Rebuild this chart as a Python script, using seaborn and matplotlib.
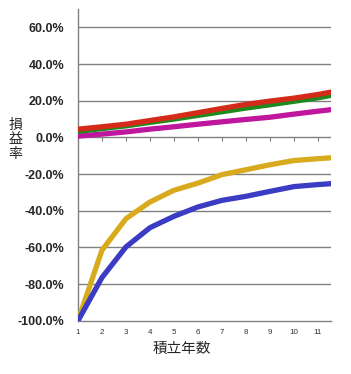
import matplotlib
matplotlib.use("Agg")
import matplotlib.pyplot as plt
import seaborn as sns
import pandas as pd
from matplotlib.ticker import FuncFormatter

years = [1, 2, 3, 4, 5, 6, 7, 8, 9, 10, 11, 12]
red = [4.5, 5.8, 7.2, 9.2, 11.2, 13.5, 15.8, 18.0, 19.8, 21.4, 23.4, 25.8]
green = [3.3, 4.8, 6.3, 8.2, 10.0, 12.0, 14.0, 16.0, 17.8, 19.7, 21.6, 24.0]
magenta = [0.7, 1.8, 3.0, 4.5, 5.8, 7.2, 8.5, 9.8, 11.0, 12.7, 14.3, 15.8]
yellow = [-100.0, -61.5, -44.3, -35.2, -28.8, -24.9, -20.3, -17.6, -14.9, -12.6, -11.6, -10.7]
blue = [-100.0, -76.4, -59.7, -49.2, -43.0, -37.9, -34.3, -32.1, -29.4, -26.8, -25.7, -24.8]
xticks = [1, 2, 3, 4, 5, 6, 7, 8, 9, 10, 11]
yticks = [-100, -80, -60, -40, -20, 0, 20, 40, 60]
xlabel = "積立年数"
ylabel = "損\n益\n率"

series = {"yellow": yellow, "blue": blue, "magenta": magenta, "green": green, "red": red}
colors = {"red": "#D42A1A", "green": "#1E8A1E", "magenta": "#C0169E",
          "yellow": "#D8AA1E", "blue": "#3B3BC4"}

df = pd.DataFrame([(y, name, v) for name, vals in series.items() for y, v in zip(years, vals)],
                  columns=["year", "series", "value"])

sns.set_style("white")
plt.rcParams['font.family'] = ['Liberation Sans', 'Noto Sans CJK JP', 'DejaVu Sans']

fig = plt.figure(figsize=(3.51, 3.74), dpi=100)
ax = fig.add_axes([0.222, 0.142, 0.721, 0.834])

ymin, ymax = -100, 70
ax.set_ylim(ymin, ymax)
ax.set_xlim(1, 11.54)

for yv in yticks[1:]:
    ax.axhline(yv, color="#808080", lw=1.0, zorder=1)

sns.lineplot(data=df, x="year", y="value", hue="series", palette=colors,
             hue_order=list(series.keys()), linewidth=3.8, ax=ax, legend=False,
             zorder=3)
for ln in ax.lines:
    ln.set_solid_joinstyle("round")

ax.set_yticks(yticks)
ax.yaxis.set_major_formatter(FuncFormatter(lambda v, p: f"{v:.1f}%"))
ax.tick_params(axis="y", length=0, pad=10)
for t in ax.get_yticklabels():
    t.set_fontweight("bold")
    t.set_family(['Liberation Sans Narrow', 'Liberation Sans'])
    t.set_fontsize(9)
ax.set_xticks(xticks)
ax.tick_params(axis="x", length=0, pad=6, labelsize=5.8, colors="#333333")

for s in ["top", "right"]:
    ax.spines[s].set_visible(False)
ax.spines["left"].set_color("#808080")
ax.spines["bottom"].set_color("#808080")
ax.spines["left"].set_linewidth(1.0)
ax.spines["bottom"].set_linewidth(1.0)

sec = ax.secondary_xaxis((0 - ymin) / (ymax - ymin))
sec.set_xticks(xticks)
sec.tick_params(axis="x", direction="out", length=3, color="#808080", labelbottom=False,
                labeltop=False)
sec.spines["bottom"].set_visible(False)
sec.spines["top"].set_visible(False)
sec.xaxis.set_ticks_position("bottom")
sec.tick_params(labelbottom=False)

ax.set_xlabel(xlabel, fontsize=10.5, family=['Noto Sans CJK JP', 'DejaVu Sans'])
ax.xaxis.set_label_coords(0.41, -0.068)
ax.set_ylabel("")
fig.text(0.043, 0.628, ylabel, fontsize=10, ha="center", va="center", linespacing=1.05,
         family=['Noto Sans CJK JP', 'DejaVu Sans'])

fig.savefig("out.png", dpi=100, facecolor="white")
